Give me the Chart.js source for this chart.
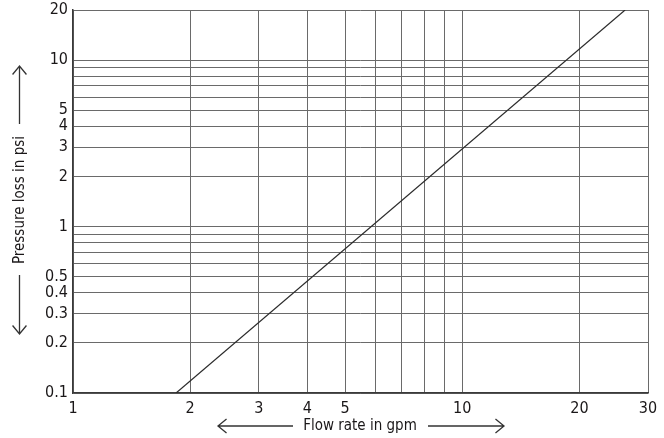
<!DOCTYPE html>
<html>
<head>
<meta charset="utf-8">
<script src="https://cdn.jsdelivr.net/npm/chart.js@4/dist/chart.umd.min.js"></script>
<style>
  html, body { margin: 0; padding: 0; background: #fff; }
  #wrap { width: 664px; height: 438px; position: relative; }
</style>
</head>
<body>
<div id="wrap"><canvas id="chart"></canvas></div>
<script>
// Line end points (gpm, psi)
const flowRate = [1.84, 26.2];
const pressureLoss = [0.1, 20];

// grid lines and which of them carry a label
const xGrid = [1, 2, 3, 4, 5, 6, 7, 8, 9, 10, 20, 30];
const xLabels = [1, 2, 3, 4, 5, 10, 20, 30];
const yGrid = [0.1, 0.2, 0.3, 0.4, 0.5, 0.6, 0.7, 0.8, 0.9, 1, 2, 3, 4, 5, 6, 7, 8, 9, 10, 20];
const yLabels = [0.1, 0.2, 0.3, 0.4, 0.5, 1, 2, 3, 4, 5, 10, 20];

const xTitle = "Flow rate in gpm";
const yTitle = "Pressure loss in psi";

const ink = "#1a1718";
const gridCol = "#6a6a6a";
const font = "'Liberation Sans Narrow', 'DejaVu Sans Condensed', sans-serif";

function near(list, v) {
  return list.some((t) => Math.abs(t - v) < 1e-9);
}

function arrow(ctx, x1, y1, x2, y2) {
  // shaft from (x1,y1) to tip (x2,y2) with open chevron head
  const ang = Math.atan2(y2 - y1, x2 - x1);
  const len = 11, spread = Math.PI / 4.6;
  ctx.beginPath();
  ctx.moveTo(x1, y1);
  ctx.lineTo(x2, y2);
  ctx.moveTo(x2 - len * Math.cos(ang - spread), y2 - len * Math.sin(ang - spread));
  ctx.lineTo(x2, y2);
  ctx.lineTo(x2 - len * Math.cos(ang + spread), y2 - len * Math.sin(ang + spread));
  ctx.stroke();
}

const titles = {
  id: "titles",
  afterDraw(chart) {
    const ctx = chart.ctx;
    ctx.save();
    ctx.strokeStyle = "#333";
    ctx.lineWidth = 1.3;
    ctx.fillStyle = ink;
    ctx.font = "15px " + font;

    // y title, rotated, with arrows above and below
    ctx.save();
    ctx.translate(20, 200);
    ctx.rotate(-Math.PI / 2);
    ctx.textAlign = "center";
    ctx.textBaseline = "middle";
    ctx.fillText(yTitle, 0, 0);
    ctx.restore();
    arrow(ctx, 19.5, 124, 19.5, 66);
    arrow(ctx, 19.5, 275, 19.5, 334);

    // x title with arrows left and right
    ctx.textAlign = "center";
    ctx.textBaseline = "middle";
    ctx.fillText(xTitle, 360, 426);
    arrow(ctx, 293, 426, 218, 426);
    arrow(ctx, 428, 426, 504, 426);
    ctx.restore();
  },
};

new Chart(document.getElementById("chart"), {
  type: "scatter",
  data: {
    datasets: [
      {
        data: flowRate.map((x, i) => ({ x, y: pressureLoss[i] })),
        showLine: true,
        borderColor: "#2b2b2b",
        borderWidth: 1.2,
        pointRadius: 0,
        fill: false,
      },
    ],
  },
  options: {
    responsive: true,
    maintainAspectRatio: false,
    animation: false,
    layout: { padding: { top: 10, right: 16, left: 0, bottom: 0 } },
    plugins: { legend: { display: false }, tooltip: { enabled: false } },
    scales: {
      x: {
        type: "logarithmic",
        min: 1,
        max: 30,
        afterBuildTicks: (s) => { s.ticks = xGrid.map((v) => ({ value: v })); },
        afterFit: (s) => { s.height = 45; s.paddingLeft = 0; s.paddingRight = 0; },
        grid: { color: gridCol, lineWidth: 1, drawTicks: false },
        border: { color: "#3a3a3a", width: 1.5 },
        ticks: {
          autoSkip: false,
          maxRotation: 0,
          padding: 6,
          color: ink,
          font: { family: font, size: 16 },
          callback: (v) => (near(xLabels, v) ? String(v) : ""),
        },
      },
      y: {
        type: "logarithmic",
        min: 0.1,
        max: 20,
        afterBuildTicks: (s) => { s.ticks = yGrid.map((v) => ({ value: v })); },
        afterFit: (s) => { s.width = 73; s.paddingTop = 0; s.paddingBottom = 0; },
        grid: { color: gridCol, lineWidth: 1, drawTicks: false },
        border: { color: "#3a3a3a", width: 1.5 },
        ticks: {
          autoSkip: false,
          padding: 5,
          color: ink,
          font: { family: font, size: 16 },
          callback: (v) => (near(yLabels, v) ? String(v) : ""),
        },
      },
    },
  },
  plugins: [titles],
});
</script>
</body>
</html>
